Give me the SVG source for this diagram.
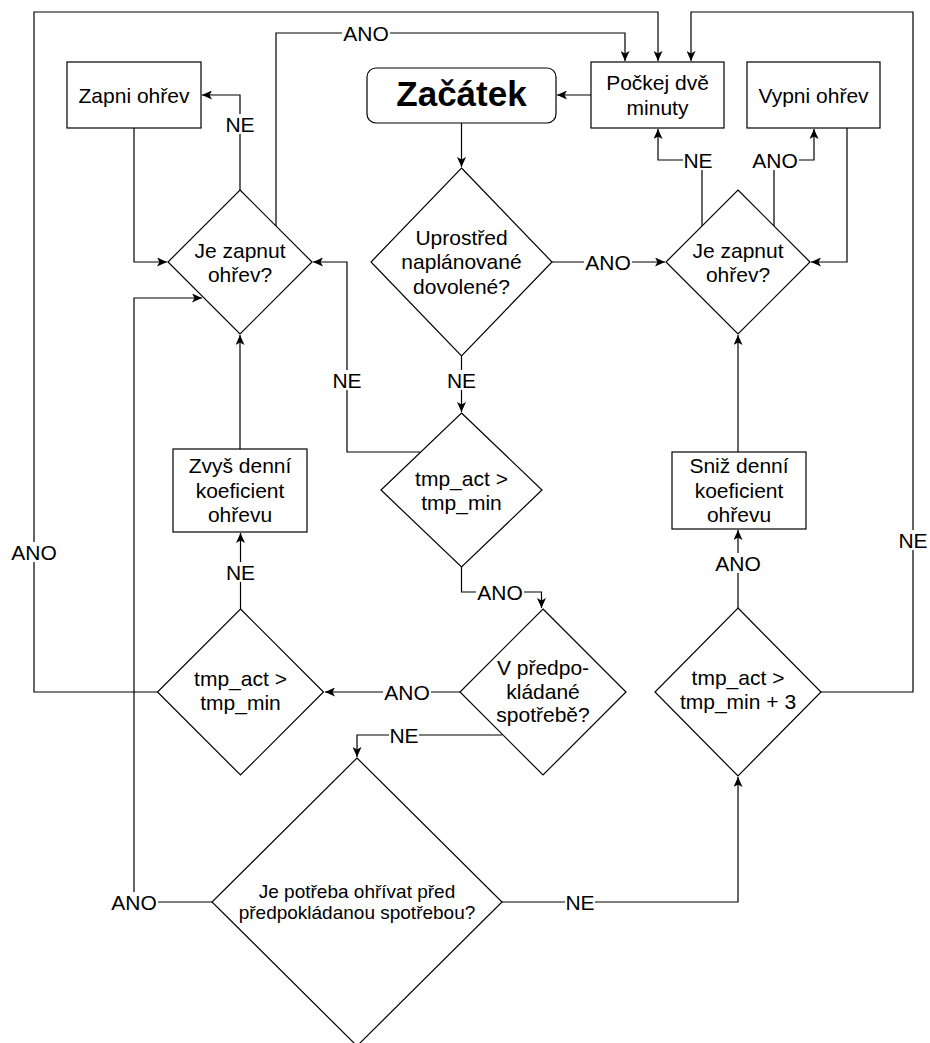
<svg xmlns="http://www.w3.org/2000/svg" width="930" height="1043" viewBox="0 0 930 1043">
<style>
.shape{fill:#fff;stroke:#000;stroke-width:1.2}
.edge{fill:none;stroke:#000;stroke-width:1.2;marker-end:url(#arr)}
text{font-family:"Liberation Sans",Arial,Helvetica,sans-serif;fill:#000;text-anchor:middle}
.t{font-size:21px}
.ts{font-size:19px}
.lb{font-size:21px}
.bg{fill:#fff;stroke:none}
</style>
<defs>
<marker id="arr" markerUnits="userSpaceOnUse" markerWidth="10" markerHeight="9" refX="10" refY="4.5" orient="auto">
<path d="M0,0 L10,4.5 L0,9 L2.5,4.5 Z" fill="#000"/>
</marker>
</defs>
<rect width="930" height="1043" fill="#fff"/>
<g id="connectors">
<path class="edge" d="M461.5,123 V167"/>
<path class="edge" d="M591,95 H557"/>
<path class="edge" d="M552,262 H665"/>
<path class="edge" d="M461.5,356 V412"/>
<path class="edge" d="M420,452 H347 V262 H313"/>
<path class="edge" d="M461.5,567 V592 H541.5 V608"/>
<path class="edge" d="M460,692 H325"/>
<path class="edge" d="M502,735 H357 V757"/>
<path class="edge" d="M502,902 H738 V777"/>
<path class="edge" d="M212,902 H134 V298 H202"/>
<path class="edge" d="M240.5,609 V533"/>
<path class="edge" d="M157.5,692 H34 V12 H658 V61"/>
<path class="edge" d="M240,449 V335"/>
<path class="edge" d="M134,128 V262 H167"/>
<path class="edge" d="M240,190 V95 H202"/>
<path class="edge" d="M276,226 V33 H625 V61"/>
<path class="edge" d="M702,226 V160 H658 V129"/>
<path class="edge" d="M774,226 V160 H814 V129"/>
<path class="edge" d="M847,128 V262 H811"/>
<path class="edge" d="M738,452 V335"/>
<path class="edge" d="M738,608 V530"/>
<path class="edge" d="M821,692 H913 V12 H691 V61"/>
<g id="labels">
<rect class="bg" x="342" y="23" width="48" height="20"/><text class="lb" x="366" y="40.5">ANO</text>
<rect class="bg" x="225" y="114" width="30" height="20"/><text class="lb" x="240" y="131.5">NE</text>
<rect class="bg" x="683" y="150" width="30" height="20"/><text class="lb" x="698" y="167.5">NE</text>
<rect class="bg" x="751" y="150" width="48" height="20"/><text class="lb" x="775" y="167.5">ANO</text>
<rect class="bg" x="584" y="252" width="48" height="20"/><text class="lb" x="608" y="269.5">ANO</text>
<rect class="bg" x="446" y="370" width="30" height="20"/><text class="lb" x="461.5" y="387.5">NE</text>
<rect class="bg" x="332" y="370" width="30" height="20"/><text class="lb" x="347" y="387.5">NE</text>
<rect class="bg" x="225" y="562" width="30" height="20"/><text class="lb" x="240.5" y="579.5">NE</text>
<rect class="bg" x="476" y="582" width="48" height="20"/><text class="lb" x="500" y="599.5">ANO</text>
<rect class="bg" x="383" y="682" width="48" height="20"/><text class="lb" x="407" y="699.5">ANO</text>
<rect class="bg" x="389" y="725" width="30" height="20"/><text class="lb" x="404" y="742.5">NE</text>
<rect class="bg" x="565" y="892" width="30" height="20"/><text class="lb" x="580" y="909.5">NE</text>
<rect class="bg" x="110" y="892" width="48" height="20"/><text class="lb" x="134" y="909.5">ANO</text>
<rect class="bg" x="714" y="553" width="48" height="20"/><text class="lb" x="738" y="570.5">ANO</text>
<rect class="bg" x="898" y="530" width="30" height="20"/><text class="lb" x="913" y="547.5">NE</text>
<rect class="bg" x="10" y="542" width="48" height="20"/><text class="lb" x="34" y="560">ANO</text>
</g>
</g>
<g id="start">
<rect class="shape" x="367" y="68" width="189" height="55" rx="9"/>
<text x="461.5" y="106" style="font-size:35px;font-weight:bold">Začátek</text>
</g>
<g id="wait">
<rect class="shape" x="591" y="62" width="133" height="66"/>
<text class="t" x="657.5" y="90">Počkej dvě</text>
<text class="t" x="657.5" y="114.5">minuty</text>
</g>
<g id="heat-on">
<rect class="shape" x="67" y="62" width="134" height="66"/>
<text class="t" x="134" y="103">Zapni ohřev</text>
</g>
<g id="heat-off">
<rect class="shape" x="747" y="62" width="133" height="66"/>
<text class="t" x="813.5" y="103">Vypni ohřev</text>
</g>
<g id="is-on-left">
<polygon class="shape" points="240,190 312,262 240,334 168,262"/>
<text class="t" x="240" y="257.5">Je zapnut</text>
<text class="t" x="240" y="281.8">ohřev?</text>
</g>
<g id="is-on-right">
<polygon class="shape" points="738,190 810,262 738,334 666,262"/>
<text class="t" x="738" y="257.5">Je zapnut</text>
<text class="t" x="738" y="281.8">ohřev?</text>
</g>
<g id="vacation">
<polygon class="shape" points="461.5,168 552,262 461.5,356 371,262"/>
<text class="t" x="461.5" y="245">Uprostřed</text>
<text class="t" x="461.5" y="269.3">naplánované</text>
<text class="t" x="461.5" y="293.5">dovolené?</text>
</g>
<g id="tmp-center">
<polygon class="shape" points="461.5,413 542,490 461.5,567 381,490"/>
<text class="t" x="461.5" y="486">tmp_act &gt;</text>
<text class="t" x="461.5" y="510">tmp_min</text>
</g>
<g id="increase">
<rect class="shape" x="173" y="449" width="134" height="83"/>
<text class="t" x="240" y="473.3">Zvyš denní</text>
<text class="t" x="240" y="497.5">koeficient</text>
<text class="t" x="240" y="521.7">ohřevu</text>
</g>
<g id="decrease">
<rect class="shape" x="672" y="452" width="134" height="77"/>
<text class="t" x="739" y="473.3">Sniž denní</text>
<text class="t" x="739" y="497.5">koeficient</text>
<text class="t" x="739" y="521.7">ohřevu</text>
</g>
<g id="tmp-left">
<polygon class="shape" points="240.5,609 323.5,692 240.5,775 157.5,692"/>
<text class="t" x="240.5" y="686">tmp_act &gt;</text>
<text class="t" x="240.5" y="710">tmp_min</text>
</g>
<g id="expected-use">
<polygon class="shape" points="543,609 626,692 543,775 460,692"/>
<text class="t" x="543" y="675">V předpo-</text>
<text class="t" x="543" y="698.5">kládané</text>
<text class="t" x="543" y="722">spotřebě?</text>
</g>
<g id="tmp-plus3">
<polygon class="shape" points="738,608 821,692 738,776 655,692"/>
<text class="t" x="738" y="685">tmp_act &gt;</text>
<text class="t" x="738" y="708.5">tmp_min + 3</text>
</g>
<g id="preheat">
<polygon class="shape" points="357,758 502,902 357,1046 212,902"/>
<text class="ts" x="357" y="898.3">Je potřeba ohřívat před</text>
<text class="ts" x="357" y="919.3">předpokládanou spotřebou?</text>
</g>
</svg>
